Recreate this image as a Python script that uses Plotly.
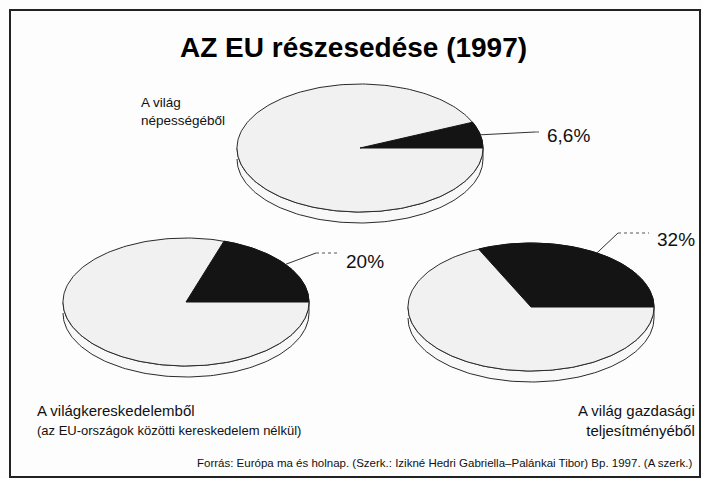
import numpy as np
import plotly.graph_objects as go

# ---- data ----
pie_titles = ["A világ<br>népességéből", "A világkereskedelemből", "A világ gazdasági<br>teljesítményéből"]
pie_subtitle = "(az EU-országok közötti kereskedelem nélkül)"
eu_share = [6.6, 20, 32]          # EU share, percent
share_labels = ["6,6%", "20%", "32%"]
title_text = "AZ EU részesedése (1997)"
source_text = "Forrás: Európa ma és holnap. (Szerk.: Izikné Hedri Gabriella–Palánkai Tibor) Bp. 1997. (A szerk.)"

# ---- layout constants (pixel space) ----
W, H = 703, 479
centers = [(360, 148), (186, 302), (531, 307)]
RX, RY, DEPTH = 123, 64, 11
label_pos = [(545, 135), (344, 261), (655, 239)]
elbows = [(535, 132), (316, 253), (618, 233)]
h_dash = ["solid", "dot", "dot"]
FONT = "Liberation Sans, Arial, Helvetica, sans-serif"
TXT = "#111111"

fig = go.Figure()

def ell(cx, cy, t):
    return cx + RX * np.cos(t), cy - RY * np.sin(t)

for i, share in enumerate(eu_share):
    cx, cy = centers[i]
    # side band (visible front half)
    t = np.linspace(np.pi, 2 * np.pi, 120)
    x1, y1 = ell(cx, cy, t)
    xs = np.concatenate([x1, x1[::-1]])
    ys = np.concatenate([y1, (y1 + DEPTH)[::-1]])
    fig.add_trace(go.Scatter(x=xs, y=ys, mode="lines", fill="toself",
                             fillcolor="#f8f8f8", line=dict(color="#2a2a2a", width=1),
                             hoverinfo="skip", showlegend=False))
    # top face
    t = np.linspace(0, 2 * np.pi, 240)
    xf, yf = ell(cx, cy, t)
    fig.add_trace(go.Scatter(x=xf, y=yf, mode="lines", fill="toself",
                             fillcolor="#f1f1f1", line=dict(color="#2a2a2a", width=1),
                             hoverinfo="skip", showlegend=False))
    # EU wedge
    a = share / 100 * 2 * np.pi
    t = np.linspace(0, a, 80)
    xw, yw = ell(cx, cy, t)
    fig.add_trace(go.Scatter(x=np.concatenate([[cx], xw, [cx]]),
                             y=np.concatenate([[cy], yw, [cy]]),
                             mode="lines", fill="toself", fillcolor="#141414",
                             line=dict(color="#141414", width=1),
                             hoverinfo="skip", showlegend=False))
    # leader line
    sx, sy = ell(cx, cy, a / 2)
    ex, ey = elbows[i]
    lx, ly = label_pos[i]
    fig.add_trace(go.Scatter(x=[sx, ex], y=[sy, ey], mode="lines",
                             line=dict(color="#333333", width=1),
                             hoverinfo="skip", showlegend=False))
    fig.add_trace(go.Scatter(x=[ex, lx - 6], y=[ey, ey], mode="lines",
                             line=dict(color="#555555", width=1, dash=h_dash[i]),
                             hoverinfo="skip", showlegend=False))
    fig.add_annotation(x=lx, y=ly, text=share_labels[i], showarrow=False,
                       xanchor="left", yanchor="middle",
                       font=dict(family=FONT, size=19, color=TXT))

# texts
fig.add_annotation(x=353, y=47, text="<b>" + title_text + "</b>", showarrow=False,
                   xanchor="center", yanchor="middle",
                   font=dict(family=FONT, size=28, color="#000000"))
fig.add_annotation(x=139, y=111, text=pie_titles[0], showarrow=False,
                   xanchor="left", yanchor="middle", align="left",
                   font=dict(family=FONT, size=13.5, color=TXT))
fig.add_annotation(x=35, y=410, text=pie_titles[1], showarrow=False,
                   xanchor="left", yanchor="middle", align="left",
                   font=dict(family=FONT, size=15, color=TXT))
fig.add_annotation(x=35, y=430, text=pie_subtitle, showarrow=False,
                   xanchor="left", yanchor="middle", align="left",
                   font=dict(family=FONT, size=13, color=TXT))
fig.add_annotation(x=697, y=420, text=pie_titles[2], showarrow=False,
                   xanchor="right", yanchor="middle", align="right",
                   font=dict(family=FONT, size=15, color=TXT))
fig.add_annotation(x=695, y=463, text=source_text, showarrow=False,
                   xanchor="right", yanchor="middle", align="right",
                   font=dict(family=FONT, size=11.5, color=TXT))

fig.update_layout(
    width=W, height=H,
    margin=dict(l=0, r=0, t=0, b=0),
    paper_bgcolor="#fdfdfd", plot_bgcolor="#fdfdfd",
    xaxis=dict(range=[0, W], visible=False, fixedrange=True),
    yaxis=dict(range=[H, 0], visible=False, fixedrange=True),
    shapes=[dict(type="rect", xref="x", yref="y", x0=10, y0=10, x1=700, y1=477,
                 line=dict(color="#222222", width=2), layer="below")],
)

fig.write_html("out.html", config={"displayModeBar": False},
               post_script="document.body.style.margin='0px';document.body.style.overflow='hidden';")
